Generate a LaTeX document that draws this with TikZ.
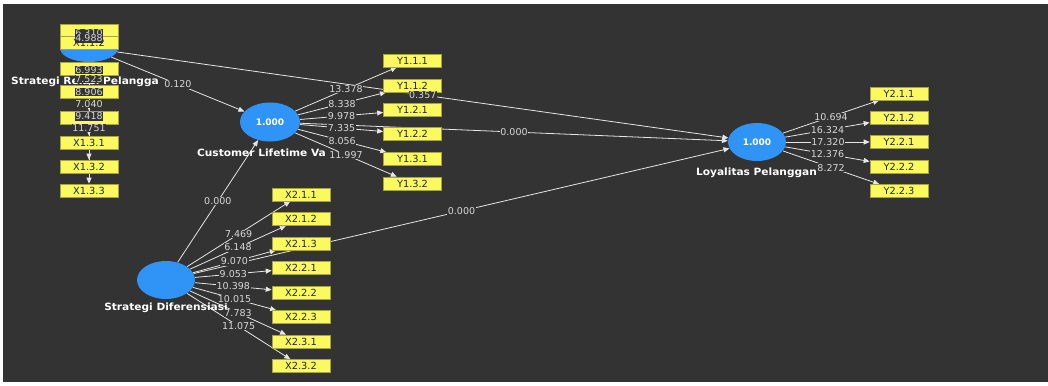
\documentclass[tikz,border=0pt]{standalone}
\usepackage{fontspec}
\setmainfont{DejaVu Sans}
\newfontfamily\capfont{DejaVu Sans}[FakeStretch=1.06]
\usetikzlibrary{shapes.geometric,arrows.meta,calc}
\pgfdeclarelayer{canvas}
\pgfdeclarelayer{edges}
\pgfsetlayers{canvas,edges,main}

\definecolor{bg}{RGB}{51,51,51}
\definecolor{lvblue}{RGB}{47,148,245}
\definecolor{indyellow}{RGB}{250,250,96}
\definecolor{indedge}{RGB}{165,165,60}
\definecolor{wirecol}{RGB}{230,230,230}
\definecolor{numtxt}{RGB}{215,215,215}

\tikzset{
  latent/.style={ellipse, fill=lvblue, minimum width=58pt, minimum height=38pt,
    inner sep=0pt, text=white, font=\bfseries\fontsize{9}{10}\selectfont},
  indbox/.style={rectangle, fill=indyellow, draw=indedge, line width=0.6pt,
    minimum width=58pt, minimum height=13pt, inner sep=0pt, text=black!85,
    font=\fontsize{9.8}{10}\selectfont},
  wire/.style={draw=wirecol, line width=0.8pt,
    -{Triangle[length=6pt,width=5pt]}},
  num/.style={fill=bg, text=numtxt, inner sep=0.6pt,
    font=\fontsize{9.5}{10}\selectfont},
  caption/.style={text=white, inner sep=0pt,
    font=\capfont\bfseries\fontsize{10}{11}\selectfont},
}

\begin{document}
\begin{tikzpicture}[x=1pt,y=-1pt]
% canvas
\begin{pgfonlayer}{canvas}
  \fill[white] (0,0) rectangle (1048,385);
  \fill[bg] (3,4) rectangle (1048,382);
\end{pgfonlayer}
\useasboundingbox (0,0) rectangle (1048,385);

% latent variables
\node[latent, minimum height=28pt] (srp) at (89,48) {};
\node[latent, minimum width=60pt, minimum height=39pt] (clv) at (270,122) {1.000};
\node[latent] (lp) at (757,142) {1.000};
\node[latent] (sd) at (166,280) {};

% indicators of Strategi Relasi Pelanggan
\node[indbox] (a1) at (89,31) {};
\node[indbox] (a2) at (89,43) {X1.1.2};
\node[indbox] (b1) at (89,68.5) {};
\node[indbox] (c1) at (89,91.5) {};
\node[indbox] (d1) at (89,117.5) {};
\node[indbox] (x131) at (89,142.5) {X1.3.1};
\node[indbox] (x132) at (89,166.5) {X1.3.2};
\node[indbox] (x133) at (89,190.5) {X1.3.3};

% indicators of Customer Lifetime Value
\foreach \nm/\tx/\yy in {y111/Y1.1.1/60.5, y112/Y1.1.2/85.5, y121/Y1.2.1/110,
    y122/Y1.2.2/134, y131/Y1.3.1/159, y132/Y1.3.2/183.5}
  \node[indbox] (\nm) at (412.5,\yy) {\tx};

% indicators of Loyalitas Pelanggan
\foreach \nm/\tx/\yy in {y211/Y2.1.1/93.5, y212/Y2.1.2/117.5, y221/Y2.2.1/142,
    y222/Y2.2.2/166.5, y223/Y2.2.3/191}
  \node[indbox] (\nm) at (899,\yy) {\tx};

% indicators of Strategi Diferensiasi
\foreach \nm/\tx/\yy in {x211/X2.1.1/194.5, x212/X2.1.2/219, x213/X2.1.3/243.5,
    x221/X2.2.1/268, x222/X2.2.2/292.5, x223/X2.2.3/317, x231/X2.3.1/341.5,
    x232/X2.3.2/366}
  \node[indbox] (\nm) at (301,\yy) {\tx};

% connectors, kept underneath the shapes
\begin{pgfonlayer}{edges}
  \draw[wire] (srp) -- coordinate[pos=.5] (m-srpclv) (clv);
  \draw[wire] (srp) -- coordinate[pos=.5] (m-srplp) (lp);
  \draw[wire] (clv) -- coordinate[pos=.5] (m-clvlp) (lp);
  \draw[wire] (sd) -- coordinate[pos=.5] (m-sdclv) (clv);
  \draw[wire] (sd) -- coordinate[pos=.5] (m-sdlp) (lp);
  \foreach \bx in {c1,d1,x131,x132,x133}
    \draw[wire] (srp) -- (\bx);
  \foreach \bx in {y111,y112,y121,y122,y131,y132}
    \draw[wire] (clv) -- coordinate[pos=.5] (m-\bx) (\bx);
  \foreach \bx in {y211,y212,y221,y222,y223}
    \draw[wire] (lp) -- coordinate[pos=.5] (m-\bx) (\bx);
  \foreach \bx in {x211,x212,x213,x221,x222,x223,x231,x232}
    \draw[wire] (sd) -- coordinate[pos=.5] (m-\bx) (\bx);
\end{pgfonlayer}

% captions of the latent variables
\node[caption] at (85,82) {Strategi Relasi Pelangga};
\node[caption] at (261.5,153) {Customer Lifetime Va};
\node[caption] at (756.5,173) {Loyalitas Pelanggan};
\node[caption] at (166,308) {Strategi Diferensiasi};

% path coefficients
\node[num] at (m-srpclv) {0.120};
\node[num] at (m-srplp) {0.357};
\node[num] at (m-clvlp) {0.000};
\node[num] at (m-sdclv) {0.000};
\node[num] at (m-sdlp) {0.000};

% outer weights
\node[num] at (89,33) {6.310};
\node[num] at (89,38.5) {4.988};
\node[num] at (89,70) {6.993};
\node[num] at (89,79) {7.523};
\node[num] at (89,92) {8.906};
\node[num] at (89,104) {7.040};
\node[num] at (89,116.5) {9.418};
\node[num] at (89,128) {11.751};

\foreach \bx/\v in {y111/13.378, y112/8.338, y121/9.978, y122/7.335,
    y131/8.056, y132/11.997,
    y211/10.694, y212/16.324, y221/17.320, y222/12.376, y223/8.272,
    x211/7.469, x212/6.148, x213/9.070, x221/9.053, x222/10.398,
    x223/10.015, x231/7.783, x232/11.075}
  \node[num] at (m-\bx) {\v};
\end{tikzpicture}
\end{document}
